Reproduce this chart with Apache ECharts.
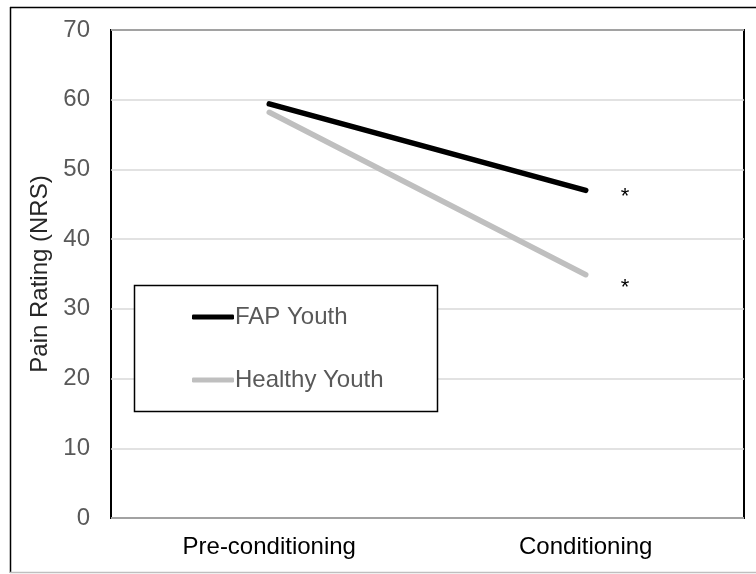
<!DOCTYPE html>
<html>
<head>
<meta charset="utf-8">
<script src="https://cdn.jsdelivr.net/npm/echarts@6/dist/echarts.min.js"></script>
<style>
html,body{margin:0;padding:0;background:#fff;}
#chart{width:756px;height:574px;}
</style>
</head>
<body>
<div id="chart"></div>
<script>
const categories = ['Pre-conditioning', 'Conditioning'];
const fapYouth = [59.4, 47.0];
const healthyYouth = [58.2, 34.9];
const significance = ['', '*'];
const yTicks = [0, 10, 20, 30, 40, 50, 60, 70];

const font = '"Liberation Sans", Arial, sans-serif';
const chart = echarts.init(document.getElementById('chart'), null, {renderer: 'canvas'});

function starLabel(offsetY) {
  return {
    show: true,
    position: 'right',
    offset: [30, offsetY],
    fontFamily: font,
    fontSize: 22,
    color: '#000',
    formatter: p => significance[p.dataIndex]
  };
}

chart.setOption({
  animation: false,
  backgroundColor: '#fff',
  graphic: [
    {type: 'line', shape: {x1: 10.5, y1: 7, x2: 10.5, y2: 573}, style: {stroke: '#000', lineWidth: 1.5}, z: -1},
    {type: 'line', shape: {x1: 10, y1: 7.5, x2: 756, y2: 7.5}, style: {stroke: '#000', lineWidth: 1.5}, z: -1},
    {type: 'line', shape: {x1: 10, y1: 572.5, x2: 756, y2: 572.5}, style: {stroke: '#bfbfbf', lineWidth: 1.5}, z: -1},
    {type: 'rect', shape: {x: 134.5, y: 285.5, width: 303, height: 126}, style: {fill: '#fff', stroke: '#000', lineWidth: 1.5}, z: 5}
  ],
  grid: {left: 111, right: 12, top: 30, bottom: 56, show: true, borderColor: '#000', borderWidth: 2, backgroundColor: 'transparent'},
  legend: {
    orient: 'vertical',
    left: 192,
    top: 305,
    itemWidth: 42,
    itemHeight: 5,
    itemGap: 39,
    padding: 0,
    icon: 'roundRect',
    textStyle: {fontFamily: font, fontSize: 24, color: '#595959', padding: [0, 0, 0, -4]},
    z: 10,
    data: ['FAP Youth', 'Healthy Youth']
  },
  xAxis: {
    type: 'category',
    data: categories,
    boundaryGap: true,
    axisLine: {show: false},
    axisTick: {show: false},
    axisLabel: {fontFamily: font, fontSize: 24, color: '#000', margin: 17}
  },
  yAxis: {
    type: 'value',
    min: yTicks[0],
    max: yTicks[yTicks.length - 1],
    interval: 10,
    name: 'Pain Rating (NRS)',
    nameLocation: 'middle',
    nameGap: 59,
    nameTextStyle: {fontFamily: font, fontSize: 24, color: '#262626'},
    axisLine: {show: false},
    axisTick: {show: false},
    axisLabel: {fontFamily: font, fontSize: 24, color: '#595959', margin: 21},
    splitLine: {lineStyle: {color: '#d9d9d9', width: 1.5}}
  },
  series: [
    {
      name: 'FAP Youth', type: 'line', data: fapYouth, symbol: 'circle', symbolSize: 0, showSymbol: true,
      lineStyle: {color: '#000', width: 5.5, cap: 'round'},
      itemStyle: {color: '#000'},
      label: starLabel(7)
    },
    {
      name: 'Healthy Youth', type: 'line', data: healthyYouth, symbol: 'circle', symbolSize: 0, showSymbol: true,
      lineStyle: {color: '#bfbfbf', width: 5.5, cap: 'round'},
      itemStyle: {color: '#bfbfbf'},
      label: starLabel(13)
    }
  ]
});
</script>
</body>
</html>
